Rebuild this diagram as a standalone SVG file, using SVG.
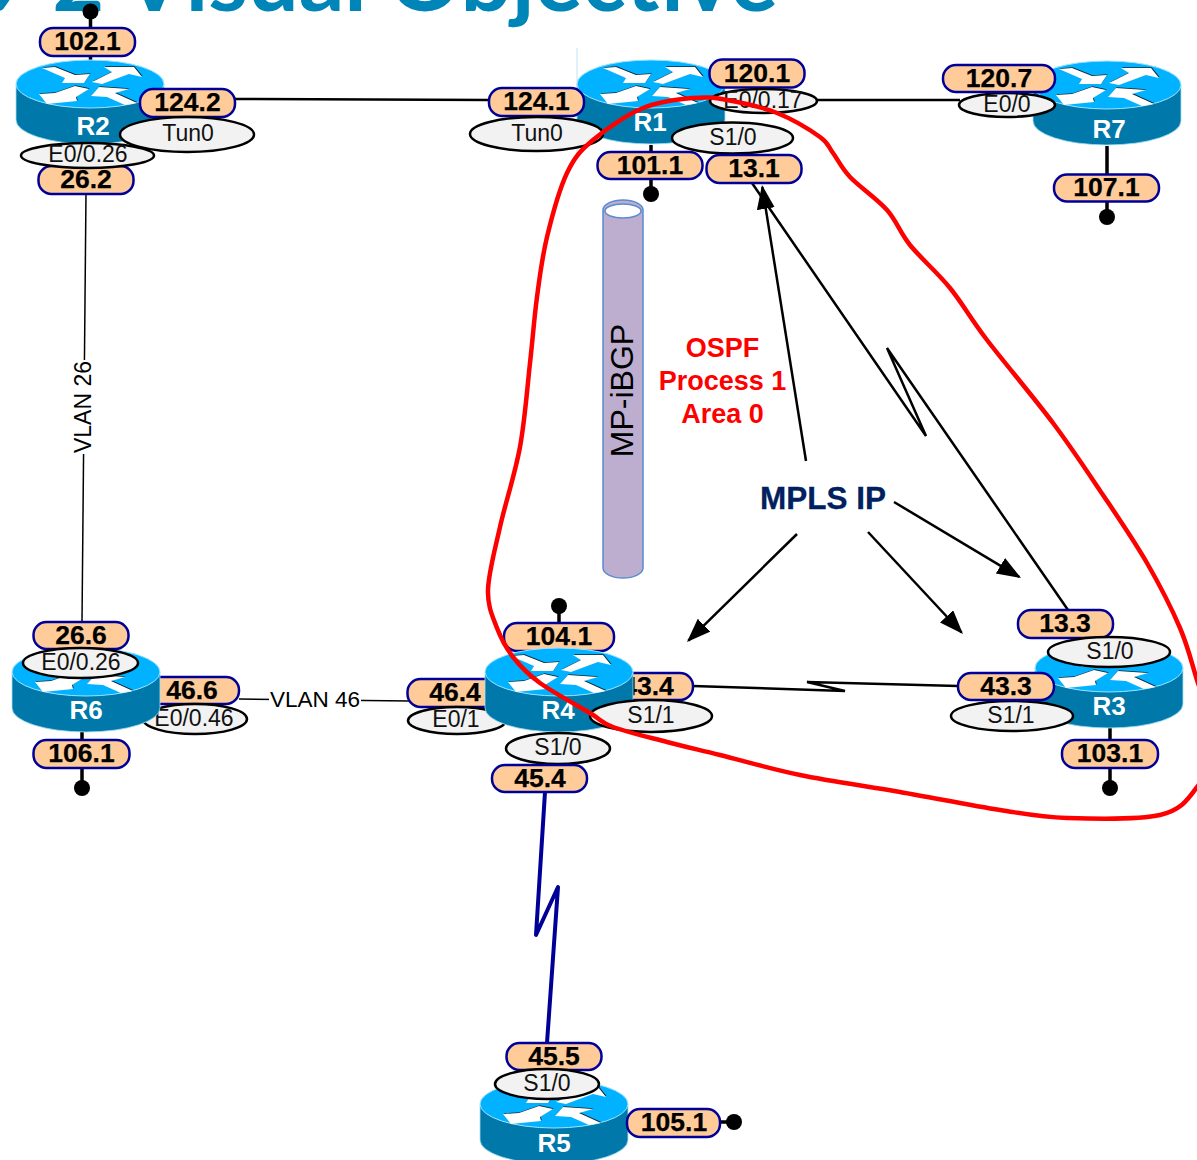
<svg xmlns="http://www.w3.org/2000/svg" width="1197" height="1160" viewBox="0 0 1197 1160">
<style>
text{font-family:"Liberation Sans",Arial,sans-serif}
.pill{fill:#FFCC99;stroke:#000099;stroke-width:2.5}
.pt{font-size:26.5px;font-weight:bold;fill:#000;text-anchor:middle;stroke:#000;stroke-width:0.25px;transform:translateY(-0.7px)}
.el{fill:#F2F2F2;stroke:#000;stroke-width:2.5}
.et{font-size:23px;fill:#111;text-anchor:middle;transform:translateY(-0.7px)}
.rl{font-size:26px;font-weight:bold;fill:#fff;text-anchor:middle}
.ln{fill:none;stroke:#000;stroke-width:2.5;stroke-linejoin:miter}
.thin{fill:none;stroke:#000;stroke-width:1.5}
.stub{stroke:#000;stroke-width:3.5}
.arr{fill:none;stroke:#000;stroke-width:2.5;marker-end:url(#ah)}
.red{fill:none;stroke:#FF0000;stroke-width:4.5}
.ospf{font-size:27px;font-weight:bold;fill:#FF0000;text-anchor:middle}
</style>
<defs>
<marker id="ah" markerUnits="userSpaceOnUse" markerWidth="26" markerHeight="20" refX="22" refY="9" orient="auto"><path d="M0,0L24,9L0,18Z" fill="#000"/></marker>
<g id="router">
<path d="M0,24V60A74,24 0 0 0 148,60V24Z" fill="#0079AA" stroke="#A6E0F5" stroke-width="0.8"/>
<ellipse cx="74" cy="24" rx="74" ry="24" fill="#00B2FF" stroke="#9FE3FF" stroke-width="1"/>
<g fill="#0A2A3A" transform="translate(0.7,-0.7)">
<path d="M26,8L39,7L59,15L74,14L68,23L46,23L49,18Z"/>
<path d="M76,22L96,12L88,7L118,7L126,17L113,14L86,24Z"/>
<path d="M23,34L39,33L59,26L73,29L60,37L61,41L31,44Z"/>
<path d="M75,36L83,27L113,29L99,33L121,43L109,45L91,37Z"/>
</g>
<g fill="#fff">
<path d="M26,8L39,7L59,15L74,14L68,23L46,23L49,18Z"/>
<path d="M76,22L96,12L88,7L118,7L126,17L113,14L86,24Z"/>
<path d="M23,34L39,33L59,26L73,29L60,37L61,41L31,44Z"/>
<path d="M75,36L83,27L113,29L99,33L121,43L109,45L91,37Z"/>
</g>
</g>
</defs>
<rect width="1197" height="1160" fill="#fff"/>
<text id="title" x="778" y="11" text-anchor="end" font-size="90" font-weight="bold" fill="#0085B8" style="font-family:Lato,'Liberation Sans',sans-serif">9 2 Visual Objective</text>
<line x1="577" y1="48" x2="577" y2="155" stroke="#BFE3F5" stroke-width="1"/>
<g id="mp-ibgp">
<path d="M603,210A20,10 0 0 1 643,210V568A20,10 0 0 1 603,568Z" fill="#BDAED0" stroke="#5B8BD0" stroke-width="1.5"/>
<ellipse cx="623" cy="211" rx="18" ry="7" fill="#fff" stroke="#5B8BD0" stroke-width="1.5"/>
<text transform="translate(633,390.500) rotate(-90)" font-size="32" text-anchor="middle" fill="#000">MP-iBGP</text>
</g>
<g id="connectors">
<path class="ln" d="M235,99L490,100"/>
<path class="ln" d="M817,100L960,100"/>
<path class="stub" d="M90.500,11V60M651,145V194M1107,146V217M82,732V788M559,606V623M1110,728V788M720,1122H734"/>
<path class="thin" d="M86,193L82,622"/>
<path class="thin" d="M239,699L410,701"/>
<path class="ln" d="M693,686L845,691L807,682L958,686"/>
<path d="M545,792L536,935L558,887L547,1043" fill="none" stroke="#000099" stroke-width="4" stroke-linejoin="round"/>
<path class="ln" d="M752,183L926,436L887,348L1068,610"/>
<path class="arr" d="M806,461L762.300,187"/>
<path class="arr" d="M797,534L688.400,640.600"/>
<path class="arr" d="M868,532L961.600,632.500"/>
<path class="arr" d="M894,502L1019.300,577"/>
<g fill="#000"><circle cx="90.500" cy="11.500" r="8"/><circle cx="651" cy="194" r="8"/><circle cx="1107" cy="217" r="8"/><circle cx="82" cy="788" r="8"/><circle cx="559" cy="606" r="8"/><circle cx="1110" cy="788" r="8"/><circle cx="734" cy="1122" r="8"/></g>
<rect x="72" y="360" width="22" height="94" fill="#fff"/>
<text transform="translate(90.500,407) rotate(-90)" font-size="23" text-anchor="middle" fill="#000">VLAN 26</text>
<rect x="269" y="688" width="92" height="24" fill="#fff"/>
<text x="315" y="706.500" font-size="22.500" text-anchor="middle" fill="#000">VLAN 46</text>
</g>
<g id="R2">
<use href="#router" x="16" y="60"/>
<text class="rl" x="93" y="135">R2</text>
<rect class="pill" x="40" y="28" width="95" height="28" rx="13"/><text class="pt" x="87.500" y="51">102.1</text>
<rect class="pill" x="140" y="89" width="95" height="28" rx="13"/><text class="pt" x="187.500" y="112">124.2</text>
<rect class="pill" x="38.500" y="166" width="95" height="28" rx="13"/><text class="pt" x="86" y="189">26.2</text>
<ellipse class="el" cx="187" cy="134.500" rx="67" ry="17.500"/><text class="et" x="188" y="142">Tun0</text>
<ellipse class="el" cx="87.500" cy="155.500" rx="66.500" ry="12.500"/><text class="et" x="88" y="163">E0/0.26</text>
</g>
<g id="R1">
<use href="#router" x="577" y="60"/>
<text class="rl" x="650" y="131">R1</text>
<rect class="pill" x="489" y="88" width="95" height="28" rx="13"/><text class="pt" x="536.500" y="111">124.1</text>
<rect class="pill" x="709.500" y="59.500" width="95" height="28" rx="13"/><text class="pt" x="757" y="82.500">120.1</text>
<ellipse class="el" cx="536.500" cy="134" rx="66.500" ry="17"/><text class="et" x="537" y="141.500">Tun0</text>
<ellipse class="el" cx="763.500" cy="101" rx="53.500" ry="12"/><text class="et" x="763" y="108.500">E0/0.17</text>
<ellipse class="el" cx="732.500" cy="138" rx="60.500" ry="15.500"/><text class="et" x="733" y="146">S1/0</text>
<rect class="pill" x="597.500" y="152" width="105" height="27" rx="13"/><text class="pt" x="650" y="174.500">101.1</text>
<rect class="pill" x="706.500" y="155" width="95" height="28" rx="13"/><text class="pt" x="754" y="178">13.1</text>
</g>
<g id="R7">
<use href="#router" x="1033" y="61"/>
<text class="rl" x="1109" y="138">R7</text>
<ellipse class="el" cx="1007" cy="105" rx="48" ry="12"/><text class="et" x="1007" y="112.500">E0/0</text>
<rect class="pill" x="943" y="65" width="112" height="27" rx="13"/><text class="pt" x="999" y="87.500">120.7</text>
<rect class="pill" x="1054" y="174.500" width="105" height="27" rx="13"/><text class="pt" x="1106.500" y="197">107.1</text>
</g>
<g id="R6">
<rect class="pill" x="144" y="677" width="95" height="27" rx="13"/><text class="pt" x="192" y="699.500">46.6</text>
<ellipse class="el" cx="195" cy="719" rx="52" ry="15"/><text class="et" x="194" y="726.500">E0/0.46</text>
<use href="#router" x="12" y="648"/>
<text class="rl" x="86" y="719">R6</text>
<rect class="pill" x="33.500" y="622" width="95" height="27" rx="13"/><text class="pt" x="81" y="644.500">26.6</text>
<ellipse class="el" cx="80.500" cy="663" rx="57.500" ry="15"/><text class="et" x="81" y="670.500">E0/0.26</text>
<rect class="pill" x="33.500" y="740" width="96" height="28" rx="13"/><text class="pt" x="81.500" y="763">106.1</text>
</g>
<g id="R4">
<rect class="pill" x="504" y="623" width="110" height="28" rx="13"/><text class="pt" x="559" y="646">104.1</text>
<rect class="pill" x="407.500" y="679" width="95" height="28" rx="13"/><text class="pt" x="455" y="702">46.4</text>
<ellipse class="el" cx="457" cy="720.500" rx="49" ry="13.500"/><text class="et" x="456" y="728">E0/1</text>
<rect class="pill" x="598" y="673" width="95" height="27" rx="13"/><text class="pt" x="648" y="695.500">43.4</text>
<use href="#router" x="485" y="648"/>
<text class="rl" x="558" y="719">R4</text>
<ellipse class="el" cx="651" cy="716" rx="61" ry="16"/><text class="et" x="651" y="723.500">S1/1</text>
<ellipse class="el" cx="558" cy="748.500" rx="52" ry="15.500"/><text class="et" x="558" y="756">S1/0</text>
<rect class="pill" x="492" y="765" width="95" height="27" rx="13"/><text class="pt" x="540" y="787.500">45.4</text>
</g>
<g id="R3">
<use href="#router" x="1035" y="644"/>
<text class="rl" x="1109" y="715">R3</text>
<rect class="pill" x="1018" y="610" width="95" height="28" rx="13"/><text class="pt" x="1065" y="633">13.3</text>
<ellipse class="el" cx="1109" cy="652" rx="61" ry="15"/><text class="et" x="1110" y="659.500">S1/0</text>
<ellipse class="el" cx="1012" cy="716" rx="61" ry="15"/><text class="et" x="1011" y="723.500">S1/1</text>
<rect class="pill" x="958" y="673" width="96" height="27" rx="13"/><text class="pt" x="1006" y="695.500">43.3</text>
<rect class="pill" x="1062" y="740" width="96" height="28" rx="13"/><text class="pt" x="1110" y="763">103.1</text>
</g>
<g id="R5">
<use href="#router" x="480" y="1080"/>
<text class="rl" x="554" y="1152">R5</text>
<rect class="pill" x="506.500" y="1043" width="95" height="27" rx="13"/><text class="pt" x="554" y="1065.500">45.5</text>
<ellipse class="el" cx="547" cy="1084" rx="52" ry="15"/><text class="et" x="547" y="1091.500">S1/0</text>
<rect class="pill" x="627" y="1109" width="93" height="28" rx="13"/><text class="pt" x="674" y="1132">105.1</text>
</g>
<path id="ospf-area" class="red" d="M693,98C707,96.700 713,97.500 727,100S761.500,106.800 777,113S810.700,130.300 820,137S828,146.300 833,153S841,167.500 850,177S877,198.700 887,210S899.500,232 910,245S937.200,272.200 950,288S969.800,317.500 987,340S1033.700,397.200 1053,423S1087.300,471.700 1103,495S1134.200,540.800 1147,563S1171.700,608.500 1180,628S1191.200,661.300 1197,680S1215,722.200 1215,740S1206.200,774.500 1197,787S1181.700,809.800 1160,815S1093.700,818.800 1067,818S1027.800,814.300 1000,810S933.300,797.800 900,792S830,781.200 800,775S742.200,760.500 720,755S684.800,746.700 667,742S625.800,731.800 613,727S602.200,720.300 590,713S552.800,692.300 540,683S520.200,666.200 513,657S501.200,639.200 497,628S487.500,606.800 488,590S494.700,550.800 500,527S515,474.300 520,447S527.200,388 530,363S534.200,318 537,297S542,257.700 547,237S559.300,189.200 567,173S580.300,150.800 593,140S626.300,115 643,108S679,99.300 693,98Z"/>
<g id="labels">
<text class="ospf" x="722.500" y="357">OSPF</text>
<text class="ospf" x="722.500" y="390">Process 1</text>
<text class="ospf" x="722.500" y="423">Area 0</text>
<text x="823" y="509" font-size="31.500" font-weight="bold" fill="#002060" stroke="#002060" stroke-width="0.3" text-anchor="middle">MPLS IP</text>
</g>
</svg>
